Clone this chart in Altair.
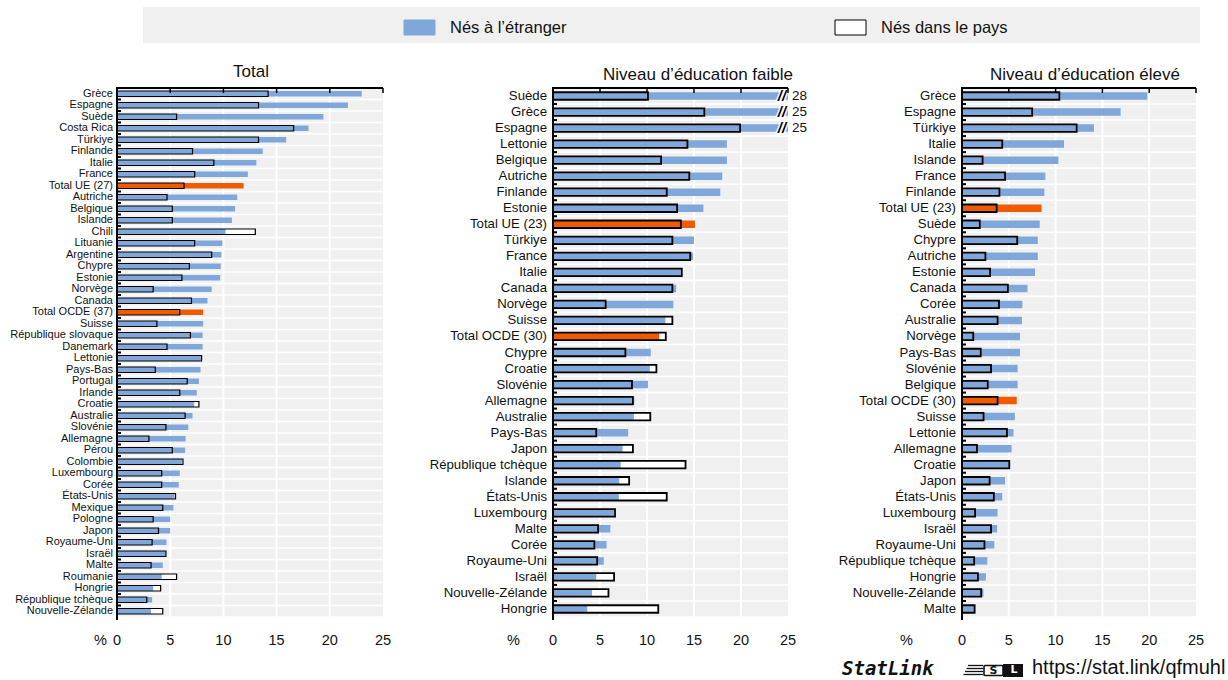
import altair as alt
import pandas as pd

BLEU = "#7FA7D9"
ORANGE = "#F05A00"
GRIS = "#F0F0F0"
NOIR = "#111111"
POLICE = "Liberation Sans"

# --- Total -------------------------------------------------------------
pays_total = [
    "Grèce", "Espagne", "Suède", "Costa Rica", "Türkiye", "Finlande", "Italie",
    "France", "Total UE (27)", "Autriche", "Belgique", "Islande", "Chili",
    "Lituanie", "Argentine", "Chypre", "Estonie", "Norvège", "Canada",
    "Total OCDE (37)", "Suisse", "République slovaque", "Danemark", "Lettonie",
    "Pays-Bas", "Portugal", "Irlande", "Croatie", "Australie", "Slovénie",
    "Allemagne", "Pérou", "Colombie", "Luxembourg", "Corée", "États-Unis",
    "Mexique", "Pologne", "Japon", "Royaume-Uni", "Israël", "Malte", "Roumanie",
    "Hongrie", "République tchèque", "Nouvelle-Zélande",
]
etranger_total = [
    23.0, 21.7, 19.4, 18.0, 15.9, 13.7, 13.1, 12.3, 11.9, 11.3, 11.1, 10.8,
    10.2, 9.9, 9.8, 9.75, 9.7, 8.9, 8.5, 8.1, 8.1, 8.05, 8.05, 7.9, 7.85, 7.7,
    7.5, 7.25, 7.1, 6.7, 6.45, 6.4, 6.1, 5.9, 5.8, 5.4, 5.3, 5.0, 5.0, 4.65,
    4.55, 4.3, 4.2, 3.4, 3.3, 3.2,
]
natifs_total = [
    14.2, 13.3, 5.6, 16.6, 13.3, 7.1, 9.1, 7.3, 6.3, 4.7, 5.2, 5.2, 13.0, 7.3,
    8.9, 6.8, 6.1, 3.4, 7.0, 5.9, 3.75, 6.9, 4.7, 7.95, 3.6, 6.6, 5.9, 7.7,
    6.4, 4.6, 3.0, 5.2, 6.2, 4.2, 4.2, 5.5, 4.3, 3.4, 3.9, 3.3, 4.6, 3.2, 5.6,
    4.1, 2.8, 4.3,
]

# --- Niveau d'éducation faible -----------------------------------------
pays_faible = [
    "Suède", "Grèce", "Espagne", "Lettonie", "Belgique", "Autriche", "Finlande",
    "Estonie", "Total UE (23)", "Türkiye", "France", "Italie", "Canada",
    "Norvège", "Suisse", "Total OCDE (30)", "Chypre", "Croatie", "Slovénie",
    "Allemagne", "Australie", "Pays-Bas", "Japon", "République tchèque",
    "Islande", "États-Unis", "Luxembourg", "Malte", "Corée", "Royaume-Uni",
    "Israël", "Nouvelle-Zélande", "Hongrie",
]
etranger_faible = [
    28, 25, 25, 18.5, 18.5, 18.0, 17.8, 16.0, 15.1, 15.0, 14.9, 13.6, 13.1,
    12.8, 11.95, 11.3, 10.4, 10.3, 10.1, 8.65, 8.6, 8.0, 7.4, 7.2, 7.05, 7.0,
    6.5, 6.1, 5.7, 5.4, 4.6, 4.15, 3.65,
]
natifs_faible = [
    10.1, 16.1, 19.9, 14.3, 11.5, 14.5, 12.1, 13.2, 13.6, 12.7, 14.6, 13.7,
    12.7, 5.6, 12.7, 12.0, 7.7, 11.0, 8.4, 8.5, 10.35, 4.6, 8.5, 14.1, 8.1,
    12.1, 6.6, 4.8, 4.4, 4.7, 6.5, 5.9, 11.2,
]

# --- Niveau d'éducation élevé ------------------------------------------
pays_eleve = [
    "Grèce", "Espagne", "Türkiye", "Italie", "Islande", "France", "Finlande",
    "Total UE (23)", "Suède", "Chypre", "Autriche", "Estonie", "Canada", "Corée",
    "Australie", "Norvège", "Pays-Bas", "Slovénie", "Belgique",
    "Total OCDE (30)", "Suisse", "Lettonie", "Allemagne", "Croatie", "Japon",
    "États-Unis", "Luxembourg", "Israël", "Royaume-Uni", "République tchèque",
    "Hongrie", "Nouvelle-Zélande", "Malte",
]
etranger_eleve = [
    19.8, 16.95, 14.1, 10.9, 10.3, 8.9, 8.8, 8.5, 8.3, 8.1, 8.1, 7.8, 7.0,
    6.45, 6.4, 6.2, 6.2, 5.95, 5.95, 5.85, 5.65, 5.5, 5.3, 5.0, 4.6, 4.3, 3.8,
    3.75, 3.45, 2.7, 2.55, 2.3, 1.35,
]
natifs_eleve = [
    10.4, 7.5, 12.25, 4.3, 2.2, 4.6, 4.0, 3.7, 1.9, 5.9, 2.5, 3.0, 4.9, 3.95,
    3.8, 1.2, 2.0, 3.1, 2.75, 3.8, 2.3, 4.8, 1.6, 5.05, 2.95, 3.4, 1.4, 3.1,
    2.4, 1.3, 1.7, 2.05, 1.35,
]

graduations = [0, 5, 10, 15, 20, 25]
legende = ["Nés à l’étranger", "Nés dans le pays"]
titres = ["Total", "Niveau d’éducation faible", "Niveau d’éducation élevé"]
source = ["StatLink", "https://stat.link/qfmuhl"]

EST_TOTAL = "indexof(datum.pays, 'Total') === 0"
X_MIN, X_MAX = min(graduations), max(graduations)
HAUT, BAS = 88, 617          # vertical extent of the three plot areas


def panneau(titre, pays, etranger, natifs, plage_x, taille_pays, epaisseur,
            trait, ecart, x_pourcent, x_titre, y_titre, coupure=False):
    """All layers of one panel; every panel carries its own x and y scales."""
    df = pd.DataFrame({"pays": pays, "etranger": etranger, "natifs": natifs})
    grad = pd.DataFrame({"v": graduations})
    bornes = pd.DataFrame({"debut": [X_MIN], "fin": [X_MAX]})
    pas = (BAS - HAUT) / len(pays)
    g = plage_x[0]

    def X(champ):
        return alt.X(champ, axis=None, scale=alt.Scale(
            domain=[X_MIN, X_MAX], range=plage_x, nice=False, zero=False,
            clamp=True))

    def Y(**kw):
        return alt.Y("pays:N", axis=None, scale=alt.Scale(
            type="band", domain=pays, range=[HAUT, BAS], paddingInner=0,
            paddingOuter=0), **kw)

    base = alt.Chart(df)
    couches = [
        # grey row bands
        base.transform_calculate(debut=str(X_MIN), fin=str(X_MAX))
        .mark_bar(color=GRIS, size=pas - 1.6)
        .encode(x=X("debut:Q"), x2=alt.X2("fin"), y=Y()),
        # white vertical grid
        alt.Chart(grad).transform_filter(f"datum.v > {X_MIN} && datum.v < {X_MAX}")
        .mark_rule(color="white", strokeWidth=2)
        .encode(x=X("v:Q"), y=alt.value(HAUT), y2=alt.value(BAS)),
        # native-born: white body below, outline on top
        base.mark_bar(color="white", size=epaisseur)
        .encode(x=X("natifs:Q"), y=Y()),
        base.mark_bar(size=epaisseur).encode(
            x=X("etranger:Q"), y=Y(),
            color=alt.condition(EST_TOTAL, alt.value(ORANGE), alt.value(BLEU))),
        base.mark_bar(size=epaisseur, fillOpacity=0, stroke="black",
                      strokeWidth=trait)
        .encode(x=X("natifs:Q"), y=Y()),
    ]

    if coupure:
        # bars running past the scale end: break sign and stated value
        hors = base.transform_filter(f"datum.etranger >= {X_MAX}")
        couches += [
            hors.mark_text(text="//", fontSize=15, fontWeight="bold",
                           fontStyle="italic", font=POLICE, color="white",
                           stroke="white", strokeWidth=3, dx=-6,
                           baseline="middle")
            .encode(x=X("etranger:Q"), y=Y()),
            hors.mark_text(text="//", fontSize=15, fontWeight="bold",
                           fontStyle="italic", font=POLICE, color="black",
                           dx=-6, baseline="middle")
            .encode(x=X("etranger:Q"), y=Y()),
            hors.mark_text(align="left", baseline="middle", dx=4, fontSize=13.5,
                           font=POLICE, color=NOIR)
            .encode(x=X("etranger:Q"), y=Y(),
                    text=alt.Text("etranger:Q", format=".0f")),
        ]

    couches += [
        # frame: top line with inward ticks, left line with row ticks
        alt.Chart(bornes).mark_rule(color="black", strokeWidth=2)
        .encode(x=X("debut:Q"), x2=alt.X2("fin"), y=alt.value(HAUT)),
        alt.Chart(grad).mark_rule(color="black", strokeWidth=1.5)
        .encode(x=X("v:Q"), y=alt.value(HAUT), y2=alt.value(HAUT + 5)),
        alt.Chart(bornes).mark_rule(color="black", strokeWidth=2)
        .encode(x=X("debut:Q"), y=alt.value(HAUT - 1), y2=alt.value(BAS + 3)),
        base.mark_rule(color="black", strokeWidth=2)
        .encode(x=alt.value(g), x2=alt.value(g + 4), y=Y(bandPosition=0)),
        # country names
        base.mark_text(align="right", baseline="middle", fontSize=taille_pays,
                       font=POLICE, color=NOIR)
        .encode(x=alt.value(g - ecart), y=Y(), text="pays:N"),
        # scale numbers and unit
        alt.Chart(grad).mark_text(baseline="middle", fontSize=14.5, font=POLICE,
                                  color=NOIR)
        .encode(x=X("v:Q"), y=alt.value(641), text=alt.Text("v:Q")),
        alt.Chart(bornes).mark_text(text="%", align="right", baseline="middle",
                                    fontSize=14.5, font=POLICE, color=NOIR)
        .encode(x=alt.value(x_pourcent), y=alt.value(641)),
        # panel title
        alt.Chart(bornes).mark_text(text=titre, align="center",
                                    baseline="alphabetic", fontSize=17,
                                    font=POLICE, color=NOIR)
        .encode(x=alt.value(x_titre), y=alt.value(y_titre)),
    ]
    return couches


couches = []
couches += panneau(titres[0], pays_total, etranger_total, natifs_total,
                   [117, 383], 11, 5.5, 1.2, 4, 107, 251, 77)
couches += panneau(titres[1], pays_faible, etranger_faible, natifs_faible,
                   [553, 788], 13.2, 7.5, 1.8, 6, 520, 698, 79.5, coupure=True)
couches += panneau(titres[2], pays_eleve, etranger_eleve, natifs_eleve,
                   [962, 1196], 13.2, 7.5, 1.8, 6, 913, 1085, 79.5)

# legend strip
leg_df = pd.DataFrame({"serie": legende})
un = alt.Chart(pd.DataFrame({"k": [0]}))
x_leg = alt.X("serie:N", axis=None, scale=alt.Scale(
    type="point", domain=legende, range=[419.5, 850.5], padding=0))
couches += [
    un.mark_rect(color=GRIS).encode(
        x=alt.value(143), x2=alt.value(1200), y=alt.value(7), y2=alt.value(43)),
    alt.Chart(leg_df).mark_point(
        shape="M-1,-0.484L1,-0.484L1,0.484L-1,0.484Z", size=961, filled=True,
        opacity=1, strokeWidth=1).encode(
        x=x_leg, y=alt.value(27.5),
        fill=alt.Fill("serie:N", legend=None, scale=alt.Scale(
            domain=legende, range=[BLEU, "white"])),
        stroke=alt.Stroke("serie:N", legend=None, scale=alt.Scale(
            domain=legende, range=[BLEU, "black"]))),
    alt.Chart(leg_df).mark_text(align="left", baseline="middle", dx=30.5,
                                fontSize=16.5, font=POLICE, color=NOIR)
    .encode(x=x_leg, y=alt.value(28), text="serie:N"),
]

# source line: StatLink wordmark, logo, link
src = pd.DataFrame({"t": source})
couches += [
    alt.Chart(src).transform_filter(alt.datum.t == source[0]).mark_text(
        align="left", baseline="alphabetic", fontSize=19, fontWeight="bold",
        fontStyle="oblique", font="DejaVu Sans Mono", color=NOIR)
    .encode(text="t:N", x=alt.value(842), y=alt.value(675)),
    alt.Chart(pd.DataFrame({"k": [0, 1, 2, 3]}))
    .transform_calculate(yy="665.5 + 3 * datum.k", xx="968 - 1.5 * datum.k")
    .mark_rule(color=NOIR, strokeWidth=1.3)
    .encode(x=alt.X("xx:Q", scale=None, axis=None), x2=alt.value(983),
            y=alt.Y("yy:Q", scale=None, axis=None)),
    un.mark_rect(fill="white", stroke=NOIR, strokeWidth=1.6, cornerRadius=1)
    .encode(x=alt.value(984), x2=alt.value(1003), y=alt.value(665.5),
            y2=alt.value(675.5)),
    un.mark_rect(fill=NOIR).encode(x=alt.value(1003), x2=alt.value(1023),
                                   y=alt.value(664), y2=alt.value(677)),
    un.mark_text(text="S", fontSize=11, fontWeight="bold", font="DejaVu Sans",
                 color=NOIR, baseline="middle")
    .encode(x=alt.value(993.5), y=alt.value(671)),
    un.mark_text(text="L", fontSize=11, fontWeight="bold", font="DejaVu Sans",
                 color="white", baseline="middle")
    .encode(x=alt.value(1014), y=alt.value(669.5)),
    alt.Chart(src).transform_filter(alt.datum.t == source[1]).mark_text(
        align="left", baseline="alphabetic", fontSize=20, font=POLICE,
        color=NOIR)
    .encode(text="t:N", x=alt.value(1032), y=alt.value(674)),
]

chart = alt.layer(*couches).resolve_scale(
    x="independent", y="independent", fill="independent",
    stroke="independent",
).properties(
    width=1228, height=680, padding=0,
    autosize=alt.AutoSizeParams(type="none"),
).configure_view(stroke="transparent")

chart.save("out.html", embed_options={"renderer": "svg", "actions": False})
